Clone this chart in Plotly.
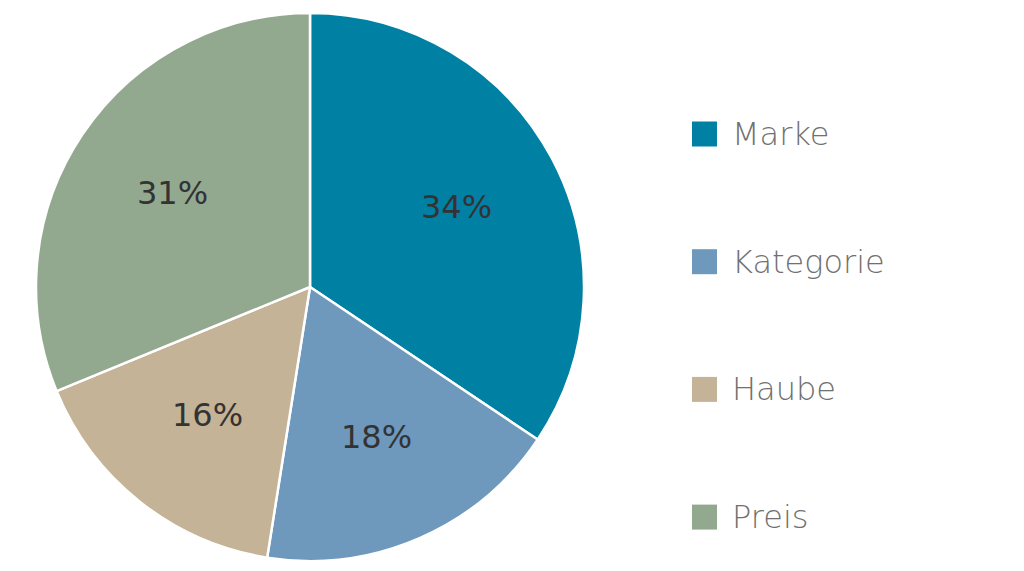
import math
import plotly.graph_objs as go

labels = ["Marke", "Kategorie", "Haube", "Preis"]
values = [34.4, 18.1, 16.3, 31.2]
colors = ["#0081A3", "#6E99BC", "#C4B396", "#93A98F"]

W, H = 1024, 571
CX, CY, R = 302, 279, 272          # pie centre / radius in px (from top-left)
LEG_X, LEG_Y0, LEG_DY = 684, 126, 127.7
SQ = 25

fig = go.Figure()
fig.add_trace(go.Pie(
    labels=labels, values=values,
    sort=False, direction="clockwise", rotation=0,
    marker=dict(colors=colors, line=dict(color="white", width=2.5)),
    textinfo="none",
    domain=dict(x=[(CX - R - 2) / W, (CX + R + 2) / W],
                y=[(H - CY - R - 2) / H, (H - CY + R + 2) / H]),
    showlegend=False, hoverinfo="label+percent"
))

# percent labels at 0.6 R on each slice's mid angle
total = sum(values)
acc = 0
for v in values:
    mid = (acc + v / 2) / total * 2 * math.pi
    acc += v
    px = CX + 0.61 * R * math.sin(mid)
    py = CY - 0.61 * R * math.cos(mid) - 2
    fig.add_annotation(
        x=px / W, y=1 - py / H, xref="paper", yref="paper",
        xanchor="center", yanchor="middle",
        text=f"{round(v / total * 100)}%", showarrow=False,
        font=dict(family="DejaVu Sans", size=32, color="#333333"),
    )

# legend drawn by hand so the squares and spacing match
for i, (name, c) in enumerate(zip(labels, colors)):
    yc = LEG_Y0 + i * LEG_DY
    fig.add_shape(
        type="rect", xref="paper", yref="paper",
        x0=LEG_X / W, x1=(LEG_X + SQ) / W,
        y0=1 - (yc + SQ / 2) / H, y1=1 - (yc - SQ / 2) / H,
        fillcolor=c, line=dict(width=0),
    )
    fig.add_annotation(
        x=(LEG_X + SQ + 13) / W, y=1 - yc / H, xref="paper", yref="paper",
        xanchor="left", yanchor="middle", text=name, showarrow=False,
        font=dict(family="DejaVu Sans", size=32, color="#707070", weight=300),
    )

fig.update_layout(
    width=W, height=H,
    margin=dict(l=0, r=0, t=0, b=0),
    paper_bgcolor="white", plot_bgcolor="white",
    showlegend=False,
)

fig.write_html("out.html")
